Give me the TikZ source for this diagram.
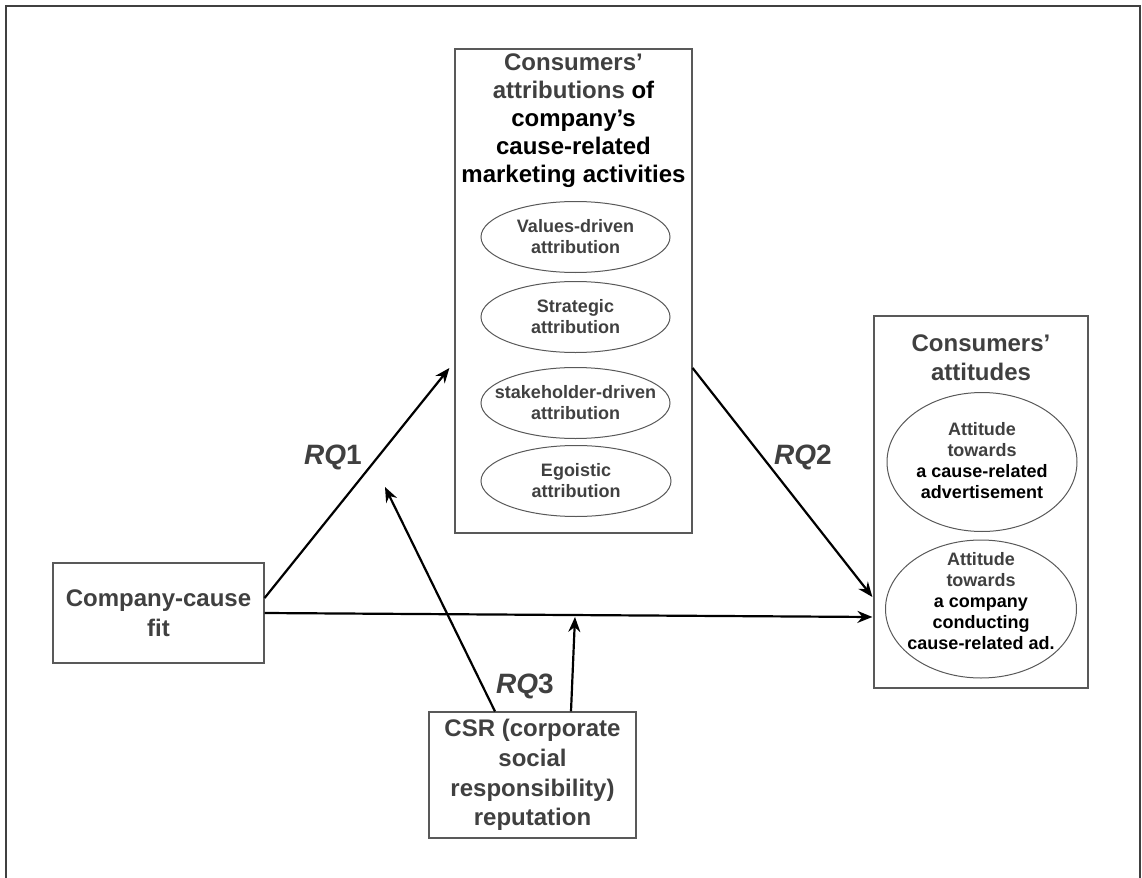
\documentclass[tikz,border=0pt]{standalone}
\usepackage{fontspec}
\setmainfont{Liberation Sans}
\usetikzlibrary{arrows.meta,shapes.geometric,calc}
\definecolor{txtgray}{HTML}{404040}
\definecolor{linegray}{HTML}{595959}
\begin{document}
\begin{tikzpicture}[x=0.5pt,y=-0.5pt,
  box/.style={draw=linegray,line width=0.6pt,inner sep=0pt},
  ell/.style={ellipse,draw=linegray,line width=0.5pt,inner xsep=-14pt,inner ysep=-4pt},
  title/.style={font=\fontsize{12}{14}\selectfont\bfseries,align=center,text=txtgray,inner sep=0pt},
  small/.style={font=\fontsize{9}{10.5}\selectfont\bfseries,align=center,text=txtgray},
  arr/.style={-{Stealth[length=7.5pt,width=6pt,inset=2.5pt]},line width=1.1pt,black},
  rq/.style={font=\fontsize{14}{16}\selectfont\bfseries,text=txtgray,inner sep=0pt}]

\useasboundingbox (0,0) rectangle (1142,878);
\draw[draw=txtgray,line width=0.8pt] (6,878) -- (6,6) -- (1140,6) -- (1140,878);

% attributions box
\node[box,minimum width=118.5pt,minimum height=242pt] (attr) at (573.5,291) {};
\node[title] (attrT) at (573.5,121) {Consumers’\\attributions \textcolor{black}{of}\\\textcolor{black}{company’s}\\\textcolor{black}{cause-related}\\\textcolor{black}{marketing activities}};
\node[small,ell,minimum width=94.5pt,minimum height=35.5pt] (val) at (575.5,237) {Values-driven\\attribution};
\node[small,ell,minimum width=94.5pt,minimum height=35.5pt] (str) at (575.5,317) {Strategic\\attribution};
\node[small,ell,minimum width=94.5pt,minimum height=35.5pt] (stk) at (575.5,403) {stakeholder-driven\\attribution};
\node[small,ell,minimum width=95pt,minimum height=35.5pt] (ego) at (576,481) {Egoistic\\attribution};

% attitudes box
\node[box,minimum width=107pt,minimum height=186pt] (att) at (981,502) {};
\node[title,font=\fontsize{12}{14.5}\selectfont\bfseries] (attT) at (981,357.5) {Consumers’\\attitudes};
\node[ell,minimum width=95pt,minimum height=69.5pt] (ea) at (982,462) {};
\node[small,inner sep=0pt] (eaT) at (982,461) {Attitude\\towards\\\textcolor{black}{a cause-related}\\\textcolor{black}{advertisement}};
\node[ell,minimum width=95.5pt,minimum height=69pt] (eb) at (981,609) {};
\node[small,inner sep=0pt] (ebT) at (981,601) {Attitude\\towards\\\textcolor{black}{a company}\\\textcolor{black}{conducting}\\\textcolor{black}{cause-related ad.}};

% company-cause fit
\node[box,title,font=\fontsize{12}{15}\selectfont\bfseries,minimum width=105.5pt,minimum height=50pt] (cf) at (158.5,613) {Company-cause\\fit};

% CSR
\node[box,title,font=\fontsize{12}{14.8}\selectfont\bfseries,minimum width=103.5pt,minimum height=63pt] (csr) at (532.5,775) {CSR (corporate\\social\\responsibility)\\reputation};

% connectors
\coordinate (m1) at (385,487);
\coordinate (m2) at (575,617);
\draw[arr] ($(cf.east)+(0,-15)$) -- ($(attr.west)+(-5,77)$);
\draw[arr] (cf.east) -- ($(att.west)+(-1,115)$);
\draw[arr] ($(attr.east)+(0,77)$) -- ($(att.west)+(-1,95)$);
\draw[arr] ($(csr.north)+(-37.5,0)$) -- (m1);
\draw[arr] ($(csr.north)+(38.5,0)$) -- (m2);

% labels
\node[rq] (rq1) at (333,457) {\textit{RQ}1};
\node[rq] (rq2) at (803,457) {\textit{RQ}2};
\node[rq] (rq3) at (525,686) {\textit{RQ}3};
\end{tikzpicture}
\end{document}
